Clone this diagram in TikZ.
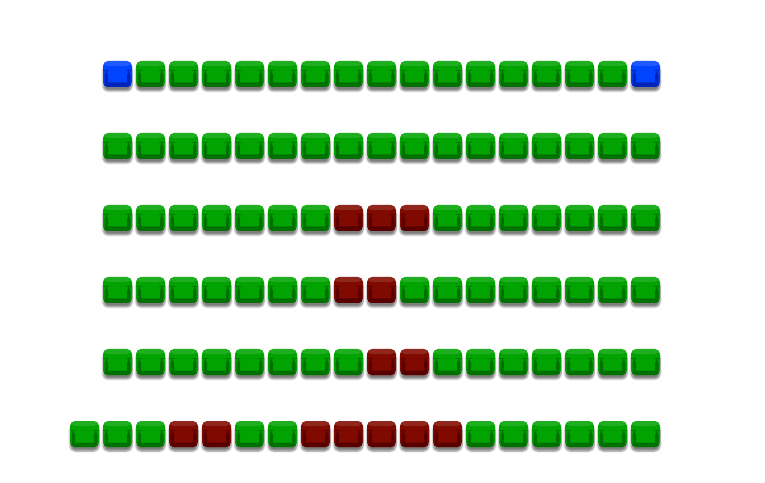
\documentclass[tikz,border=0pt]{standalone}
\usepackage{xcolor}
\usepackage{tikz}
\usetikzlibrary{positioning,shadows.blur}

\definecolor{cellg}{HTML}{00A300}
\definecolor{cellgdark}{HTML}{007000}
\definecolor{cellr}{HTML}{800A00}
\definecolor{cellrdark}{HTML}{580000}
\definecolor{cellb}{HTML}{0044FF}
\definecolor{cellbdark}{HTML}{0024B8}

\begin{document}
\begin{tikzpicture}[
  x = 1pt, y = 1pt,
  cell/.style = {minimum width=29pt, minimum height=26pt, inner sep=0pt,
                 rounded corners=5pt, fill=cell#1,
                 blur shadow={shadow xshift=0pt, shadow yshift=-4pt,
                              shadow blur steps=6, shadow opacity=50},
                 path picture={
                   \coordinate (sw) at (path picture bounding box.south west);
                   \coordinate (ne) at (path picture bounding box.north east);
                   \fill[cell#1dark] (sw) rectangle ([yshift=4.5pt]sw -| ne);
                   \fill[cell#1dark] ([xshift=1.5pt]sw) rectangle ([xshift=5pt,yshift=-9pt]sw |- ne);
                   \fill[cell#1dark] ([xshift=-1.5pt]sw -| ne) rectangle ([xshift=-5pt,yshift=-9pt]ne);
                   \fill[white, opacity=0.12] ([yshift=-5pt]sw |- ne) rectangle (ne);
                 }}
]
  \useasboundingbox (0,0) rectangle (765,482);

  % rows of cells, top to bottom
  \foreach \r/\first/\cols in {
      0/0/{b,g,g,g,g,g,g,g,g,g,g,g,g,g,g,g,b},
      1/0/{g,g,g,g,g,g,g,g,g,g,g,g,g,g,g,g,g},
      2/0/{g,g,g,g,g,g,g,r,r,r,g,g,g,g,g,g,g},
      3/0/{g,g,g,g,g,g,g,r,r,g,g,g,g,g,g,g,g},
      4/0/{g,g,g,g,g,g,g,g,r,r,g,g,g,g,g,g,g},
      5/-1/{g,g,g,r,r,g,g,r,r,r,r,r,g,g,g,g,g,g}}
  {
    \foreach \c [count=\i from \first] in \cols
      \node[cell=\c] (c-\r-\i) at (117.5+33*\i, 408-72*\r) {};
  }
\end{tikzpicture}
\end{document}
